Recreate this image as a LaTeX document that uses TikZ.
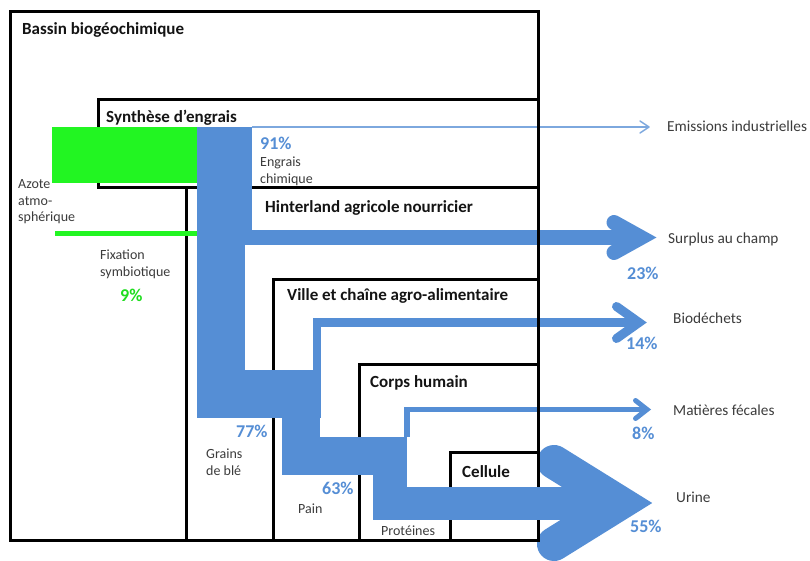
\documentclass[tikz,border=0pt]{standalone}
\usepackage{fontspec}
\setmainfont{Carlito}
\definecolor{flow}{RGB}{85,142,213}
\definecolor{thinflow}{RGB}{125,168,222}
\definecolor{nitro}{RGB}{34,245,34}
\definecolor{txt}{RGB}{60,60,60}
\definecolor{ttl}{RGB}{20,20,20}
\tikzset{
  box/.style={draw=black, line width=3pt},
  flowfill/.style={fill=flow},
  nfill/.style={fill=nitro},
  chev/.style={draw=flow, line cap=round, line join=miter, miter limit=10},
  title/.style={anchor=base west, inner sep=0pt, text=ttl, font=\fontsize{17}{20}\selectfont\bfseries},
  lbl/.style={anchor=base west, inner sep=0pt, text=txt, align=left, font=\fontsize{14}{16.7}\selectfont},
  outlbl/.style={anchor=base west, inner sep=0pt, text=txt, font=\fontsize{15.3}{18}\selectfont},
  pct/.style={anchor=base west, inner sep=0pt, text=flow, font=\fontsize{18}{20}\selectfont\bfseries},
}
\begin{document}
\begin{tikzpicture}[x=1pt,y=-1pt]
\useasboundingbox (0,0) rectangle (810,561);
\fill[white] (0,0) rectangle (810,561);
% boxes
\draw[box] (10,12) rectangle (538,540);
\draw[box] (98,100) rectangle (538,188);
\draw[box] (186,188) rectangle (538,540);
\draw[box] (273,279) rectangle (538,540);
\draw[box] (359,364) rectangle (538,540);
\draw[box] (450,452) rectangle (538,540);
% nitrogen inputs
\fill[nfill] (52,127) rectangle (198,183);
\fill[nfill] (55,231) rectangle (198,235.5);
% blue flows
\fill[flowfill] (197,127) rectangle (252,230);
\fill[flowfill] (197,230) rectangle (641,245);
\fill[flowfill] (197,245) rectangle (245,418);
\fill[flowfill] (197,370) rectangle (321,418);
\fill[flowfill] (313,318) rectangle (321,370);
\fill[flowfill] (313,318) rectangle (639,327);
\fill[flowfill] (282,418) rectangle (320,475);
\fill[flowfill] (282,437) rectangle (407,475);
\fill[flowfill] (404,407) rectangle (647,412);
\fill[flowfill] (404,407) rectangle (410,437);
\fill[flowfill] (373,475) rectangle (407,520);
\fill[flowfill] (373,487) rectangle (620,520);
% arrowheads
\draw[chev, line width=15pt] (614,222.5) -- (641,237.5) -- (614,252.5);
\draw[chev, line width=9pt] (616.5,306.5) -- (639,322.5) -- (616.5,338.5);
\draw[chev, line width=5pt] (635.5,400.5) -- (647,409.5) -- (635.5,418.5);
\draw[chev, line width=34pt] (554,462) -- (620,503) -- (554,544);
% emissions
\draw[thinflow, line width=1.5pt] (252,127) -- (648,127);
\draw[thinflow, line width=1.5pt, line cap=round, line join=round] (640,121) -- (649,127) -- (640,133);
% right edge on top
\draw[black, line width=3pt] (538,12) -- (538,487);
\draw[black, line width=3pt] (538,520) -- (538,541.5);
% titles
\node[title] (bassin) at (22,35) {Bassin biogéochimique};
\node[title] (synth) at (106,123) {Synthèse d’engrais};
\node[title] (hinter) at (265,212) {Hinterland agricole nourricier};
\node[title] (ville) at (287,300) {Ville et chaîne agro-alimentaire};
\node[title] (corps) at (370,387) {Corps humain};
\node[title] (cell) at (462,477) {Cellule};
% inner labels (base anchor = baseline of last line)
\node[pct] (p91) at (260,150) {91\%};
\node[lbl] (engrais) at (260,183.5) {Engrais\\chimique};
\node[lbl] (azote) at (18,222) {Azote\\atmo-\\sphérique};
\node[lbl] (fix) at (100,276) {Fixation\\symbiotique};
\node[pct, text=nitro!90!black] (p9) at (120,301) {9\%};
\node[pct] (p77) at (236,437) {77\%};
\node[lbl] (grains) at (206,475) {Grains\\de blé};
\node[pct] (p63) at (322,494) {63\%};
\node[lbl] (pain) at (298,513) {Pain};
\node[lbl] (prot) at (381,535) {Protéines};
% outputs
\node[outlbl] (emis) at (667,131.5) {Emissions industrielles};
\node[outlbl] (surplus) at (668,243) {Surplus au champ};
\node[pct] (p23) at (627,279) {23\%};
\node[outlbl] (bio) at (673,323) {Biodéchets};
\node[pct] (p14) at (626,349) {14\%};
\node[outlbl] (feces) at (673,415) {Matières fécales};
\node[pct] (p8) at (632,439) {8\%};
\node[outlbl] (urine) at (676,502) {Urine};
\node[pct] (p55) at (630,532) {55\%};
\end{tikzpicture}
\end{document}
